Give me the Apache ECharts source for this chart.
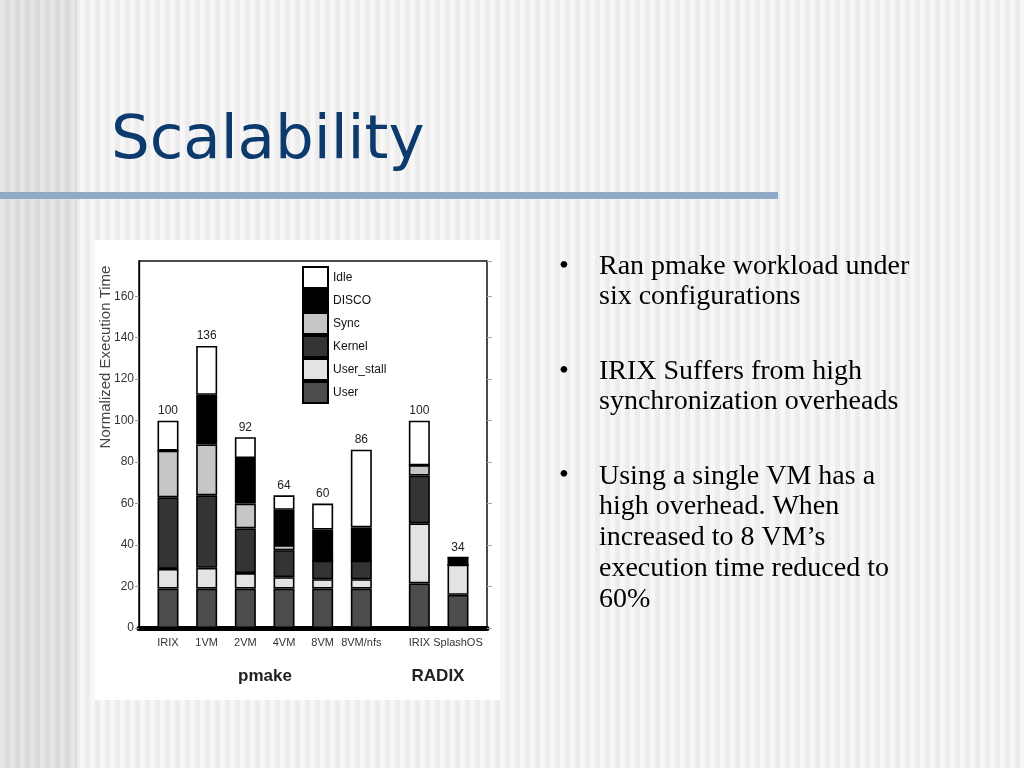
<!DOCTYPE html>
<html><head><meta charset="utf-8">
<script src="https://cdn.jsdelivr.net/npm/echarts@6/dist/echarts.min.js"></script>
<style>
html,body{margin:0;padding:0;width:1024px;height:768px;overflow:hidden}
body{background:
 linear-gradient(90deg, rgba(0,0,0,0.075) 0, rgba(0,0,0,0.075) 77px, transparent 77px),
 repeating-linear-gradient(90deg,#f7f7f7 0,#f7f7f7 5px,#ececec 5px,#ececec 10px);}
#bar{position:absolute;left:0;top:192px;width:778px;height:7px;background:#8eaac6}
#box{position:absolute;left:95px;top:240px;width:405px;height:460px;background:#fff}
#c{position:absolute;left:0;top:0;width:1024px;height:768px}
</style></head><body><div id="bar"></div><div id="box"></div><div id="c"></div>
<script>
// ---- data ----
const categories = ['IRIX','1VM','2VM','4VM','8VM','8VM/nfs','IRIX','SplashOS'];
const groups = ['pmake','RADIX'];
const totals    = [100, 136, 92, 64, 60, 86, 100, 34];
const user      = [19, 19, 19, 19, 19, 19, 21.5, 16];
const userStall = [9.5, 10, 7.5, 5.5, 4.5, 4.5, 29, 14.5];
const kernel    = [34.5, 35, 21.5, 13, 9, 9, 23, 0];
const sync      = [22.5, 24.5, 12, 2.5, 0, 0, 5, 0];
const disco     = [0, 24, 22, 17, 15, 16, 0, 3.5];
const idle      = [14.5, 23.5, 10, 7, 12.5, 37.5, 21.5, 0];
const yTickValues = [0, 20, 40, 60, 80, 100, 120, 140, 160];
const legendOrder = ['Idle','DISCO','Sync','Kernel','User_stall','User'];

// ---- layout: 18 half-width slots so the RADIX group sits after a gap ----
const SLOTS = 18;
const slotOf = [1,3,5,7,9,11,14,16];
const xData = new Array(SLOTS).fill('');
slotOf.forEach((s,i)=>{ xData[s] = categories[i]; });
function toSlots(arr){
  const out = new Array(SLOTS).fill(null);
  slotOf.forEach((s,i)=>{ out[s] = arr[i]; });
  return out;
}
const catOfSlot = {}; slotOf.forEach((s,i)=>{ catOfSlot[s]=i; });

const SANS = "'Liberation Sans',Arial,sans-serif";
const colors = {User:'#4d4d4d', User_stall:'#e3e3e3', Kernel:'#343434', Sync:'#c6c6c6', DISCO:'#000000', Idle:'#ffffff'};
const seriesDefs = [['User',user],['User_stall',userStall],['Kernel',kernel],['Sync',sync],['DISCO',disco],['Idle',idle]];

const series = seriesDefs.map(([name,arr])=>({
  name, type:'bar', stack:'t', barWidth:21,
  data: toSlots(arr),
  itemStyle:{color:colors[name], borderColor:'#000', borderWidth:1.6},
  emphasis:{disabled:true}
}));
series.push({
  name:'total', type:'bar', stack:'t', barWidth:21,
  data: toSlots(totals.map(()=>0)),
  itemStyle:{color:'transparent', borderWidth:0},
  label:{show:true, position:'top', distance:4, fontFamily:SANS, fontSize:12, color:'#222',
    formatter:p=>String(totals[catOfSlot[p.dataIndex]])},
  emphasis:{disabled:true}
});

const chart = echarts.init(document.getElementById('c'), null, {renderer:'canvas'});
const yAxisBase = {type:'value', min:0, max:177, interval:20, splitLine:{show:false}};
chart.setOption({
  backgroundColor:'transparent',
  animation:false,
  grid:{left:139, right:1024-487, top:261, bottom:768-628, show:true, backgroundColor:'#fff', borderColor:'#111', borderWidth:1.5},
  legend:{
    data:legendOrder, orient:'vertical', left:302, top:266, padding:0,
    itemWidth:25, itemHeight:21, itemGap:0, icon:'rect', selectedMode:false,
    textStyle:{fontFamily:SANS, fontSize:12, color:'#111'}
  },
  xAxis:{
    type:'category', data:xData,
    axisLine:{lineStyle:{color:'#000', width:5}},
    axisTick:{show:false},
    axisLabel:{interval:0, margin:9, fontFamily:SANS, fontSize:11, color:'#333'}
  },
  yAxis:[
    Object.assign({}, yAxisBase, {
      position:'left',
      axisLine:{show:true, lineStyle:{color:'#000', width:1.3}},
      axisTick:{show:true, length:4, lineStyle:{color:'#999'}},
      axisLabel:{fontFamily:SANS, fontSize:12, color:'#333', margin:5, showMaxLabel:false,
        formatter:v=> yTickValues.indexOf(v)>=0 ? String(v) : ''}
    }),
    Object.assign({}, yAxisBase, {
      position:'right',
      axisLine:{show:false},
      axisTick:{show:true, length:5, lineStyle:{color:'#aaa'}},
      axisLabel:{show:false}
    })
  ],
  series,
  graphic:[
    {type:'text', left:111, top:112, style:{text:'Scalability', font:"61px 'DejaVu Sans'", fill:'#0c3a6d'}},
    {type:'text', x:106, y:357, rotation:Math.PI/2, style:{text:'Normalized Execution Time', font:"15px 'Liberation Sans'", fill:'#444', align:'center', verticalAlign:'middle'}},
    {type:'text', x:265, y:676, style:{text:groups[0], font:"bold 17px "+SANS, fill:'#222', align:'center', verticalAlign:'middle'}},
    {type:'text', x:438, y:676, style:{text:groups[1], font:"bold 17px "+SANS, fill:'#222', align:'center', verticalAlign:'middle'}},
    {type:'text', x:559, y:253, style:{text:'•', font:"28px 'Liberation Serif'", fill:'#000'}},
    {type:'text', x:599, y:252, style:{text:'Ran pmake workload under\nsix configurations', font:"28px 'Liberation Serif'", lineHeight:30, fill:'#000'}},
    {type:'text', x:559, y:358, style:{text:'•', font:"28px 'Liberation Serif'", fill:'#000'}},
    {type:'text', x:599, y:357, style:{text:'IRIX Suffers from high\nsynchronization overheads', font:"28px 'Liberation Serif'", lineHeight:30, fill:'#000'}},
    {type:'text', x:559, y:462, style:{text:'•', font:"28px 'Liberation Serif'", fill:'#000'}},
    {type:'text', x:599, y:461, style:{text:'Using a single VM has a\nhigh overhead. When\nincreased to 8 VM\u2019s\nexecution time reduced to\n60%', font:"28px 'Liberation Serif'", lineHeight:30.7, fill:'#000'}}
  ]
});
</script></body></html>
